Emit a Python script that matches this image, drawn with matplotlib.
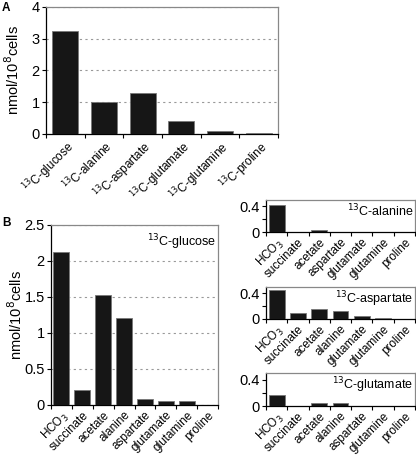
import numpy as np
import matplotlib
matplotlib.use('Agg')
import matplotlib.pyplot as plt

plt.rcParams['font.family'] = ['Liberation Sans', 'DejaVu Sans']

## panel A data
a_cats = ['$^{13}$C-glucose', '$^{13}$C-alanine', '$^{13}$C-aspartate',
          '$^{13}$C-glutamate', '$^{13}$C-glutamine', '$^{13}$C-proline']
a_vals = [3.25, 1.0, 1.3, 0.42, 0.11, 0.04]

## panel B data (glucose)
glc_cats = ['HCO$_3$', 'succinate', 'acetate', 'alanine', 'aspartate',
            'glutamate', 'glutamine', 'proline']
glc_vals = [2.12, 0.21, 1.53, 1.21, 0.08, 0.06, 0.05, 0.0]

## small panels
ala_cats = ['HCO$_3$', 'succinate', 'acetate', 'aspartate', 'glutamate', 'glutamine', 'proline']
ala_vals = [0.42, 0.0, 0.03, 0.0, 0.0, 0.0, 0.0]
asp_cats = ['HCO$_3$', 'succinate', 'acetate', 'alanine', 'glutamate', 'glutamine', 'proline']
asp_vals = [0.45, 0.10, 0.15, 0.13, 0.05, 0.02, 0.0]
glu_cats = ['HCO$_3$', 'succinate', 'acetate', 'alanine', 'aspartate', 'glutamine', 'proline']
glu_vals = [0.17, 0.0, 0.04, 0.04, 0.0, 0.0, 0.0]

W, H = 416, 459
fig = plt.figure(figsize=(W / 100, H / 100), dpi=100)


def px_axes(x0, y0, x1, y1):
    return fig.add_axes([x0 / W, 1 - y1 / H, (x1 - x0) / W, (y1 - y0) / H])


def bars(ax, cats, vals, width, ymax, grid=True, lab_size=8.5):
    n = len(cats)
    x = np.arange(n)
    ax.bar(x, vals, width, color='#161616', edgecolor='#777777', linewidth=0.6, zorder=3)
    ax.set_xlim(-0.5, n - 0.5)
    ax.set_ylim(0, ymax)
    ax.set_xticks(np.arange(n + 1) - 0.5)
    ax.set_xticklabels([])
    ax.set_xticks(x, minor=True)
    ax.set_xticklabels(cats, minor=True)
    ax.tick_params(axis='x', which='major', direction='out', length=3, width=0.8)
    ax.tick_params(axis='x', which='minor', length=0, pad=3)
    plt.setp(ax.get_xticklabels(minor=True), rotation=45, ha='right', va='top',
             rotation_mode='anchor', fontsize=lab_size)
    ax.tick_params(axis='y', direction='out', length=3, width=0.8, labelsize=10.5, pad=1.5)
    for s in ['top', 'right']:
        ax.spines[s].set_color('#888888')
        ax.spines[s].set_linewidth(0.9)
    for s in ['left', 'bottom']:
        ax.spines[s].set_linewidth(0.9)
    if grid:
        ax.yaxis.grid(True, linestyle=(0, (2, 3)), color='#999999', linewidth=0.8, zorder=0)
    ax.set_axisbelow(True)


# panel A
axA = px_axes(46, 7, 278, 134)
bars(axA, a_cats, a_vals, 0.67, 4)
axA.set_yticks([0, 1, 2, 3, 4])
axA.set_yticklabels(['0', '1', '2', '3', '4'])
fig.text(2 / W, 1 - 8 / H, 'A', fontsize=8.5, fontweight='bold', va='center')
fig.text(13 / W, 1 - 70 / H, 'nmol/10$^8$cells', rotation=90, fontsize=10.5,
         ha='center', va='center')

# panel B main
axB = px_axes(51, 225, 218, 405)
bars(axB, glc_cats, glc_vals, 0.77, 2.5)
axB.set_yticks([0, 0.5, 1, 1.5, 2, 2.5])
axB.set_yticklabels(['0', '0.5', '1', '1.5', '2', '2.5'])
axB.text(0.99, 0.96, '$^{13}$C-glucose', transform=axB.transAxes, ha='right', va='top', fontsize=9)
fig.text(2 / W, 1 - 223 / H, 'B', fontsize=8.5, fontweight='bold', va='center')
fig.text(16 / W, 1 - 315 / H, 'nmol/10$^8$cells', rotation=90, fontsize=10.5,
         ha='center', va='center')

# small panels
small = [((200, 232), ala_cats, ala_vals, '$^{13}$C-alanine'),
         ((287, 319), asp_cats, asp_vals, '$^{13}$C-aspartate'),
         ((373, 406), glu_cats, glu_vals, '$^{13}$C-glutamate')]
for (y0, y1), cats, vals, title in small:
    ax = px_axes(266, y0, 415, y1)
    bars(ax, cats, vals, 0.75, 0.5, grid=False)
    ax.set_yticks([0, 0.4])
    ax.set_yticklabels(['0', '0.4'])
    ax.set_yticks([0.2], minor=True)
    ax.tick_params(axis='y', which='minor', direction='out', length=3, width=0.8)
    ax.text(0.99, 0.93, title, transform=ax.transAxes, ha='right', va='top', fontsize=9)

fig.savefig('out.png', dpi=100)
